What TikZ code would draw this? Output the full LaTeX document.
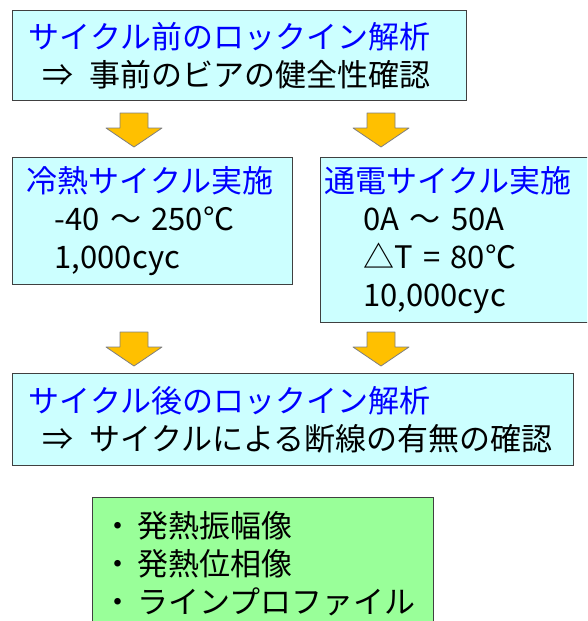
\documentclass[tikz,border=0pt]{standalone}
\usepackage{fontspec}
\setmainfont{Noto Sans CJK JP}
\usetikzlibrary{positioning}
\definecolor{lockCyan}{HTML}{CCFFFF}
\definecolor{lockGreen}{HTML}{99FF99}
\definecolor{lockBlue}{HTML}{0000FF}
\definecolor{lockLine}{HTML}{404040}
\definecolor{lockGold}{HTML}{FFC000}
\definecolor{lockGrey}{HTML}{7F7F7F}

\begin{document}
\begin{tikzpicture}[x=0.75pt,y=-0.75pt,font=\fontsize{23.25}{28.5}\selectfont]
  \tikzset{
    panel/.style={draw=lockLine,line width=1pt,fill=lockCyan,anchor=north west,align=left,inner ysep=0pt},
    head/.style={text=lockBlue},
    pics/dropArrow/.style={code={
      \draw[draw=lockGrey,line width=.6pt,fill=lockGold,line join=round]
        (-14,0) -- (14,0) -- (14,15) -- (28,15) -- (0,34) -- (-28,15) -- (-14,15) -- cycle;}}
  }
  \useasboundingbox (0,0) rectangle (587,621);
  \clip (0,0) rectangle (587,621);
  % analysis before cycling
  \node[panel,inner xsep=12pt,text width=316.5pt,minimum height=67.5pt] (pre) at (12,10)
    {\textcolor{lockBlue}{サイクル前のロックイン解析}\\\hspace*{10.5pt}⇒\hspace{12pt}事前のビアの健全性確認};
  % the two cycling tests
  \node[panel,inner xsep=10.5pt,text width=189pt,minimum height=95.25pt] (cold) at (12,157)
    {\textcolor{lockBlue}{冷熱サイクル実施}\\\hspace*{21pt}-40 ～ 250℃\\\hspace*{21pt}1,000cyc};
  \node[panel,inner xsep=3pt,text width=204pt,minimum height=123.75pt] (power) at (320,157)
    {\textcolor{lockBlue}{通電サイクル実施}\\\hspace*{29pt}0A ～ 50A\\\hspace*{29pt}△T = 80℃\\\hspace*{29pt}10,000cyc};
  % analysis after cycling
  \node[panel,inner xsep=12pt,text width=396.75pt,minimum height=69pt] (post) at (12,373)
    {\textcolor{lockBlue}{サイクル後のロックイン解析}\\\hspace*{10.5pt}⇒\hspace{12pt}サイクルによる断線の有無の確認};
  % outputs
  \node[panel,fill=lockGreen,inner xsep=7.5pt,text width=240.75pt,minimum height=99pt] (result) at (92,497)
    {・\hspace{3pt}発熱振幅像\\・\hspace{3pt}発熱位相像\\・\hspace{3pt}ラインプロファイル};
  % block arrows
  \pic (preCold) at (134,113) {dropArrow};
  \pic (prePower) at (381,113) {dropArrow};
  \pic (coldPost) at (134,332) {dropArrow};
  \pic (powerPost) at (381,332) {dropArrow};
\end{tikzpicture}
\end{document}
